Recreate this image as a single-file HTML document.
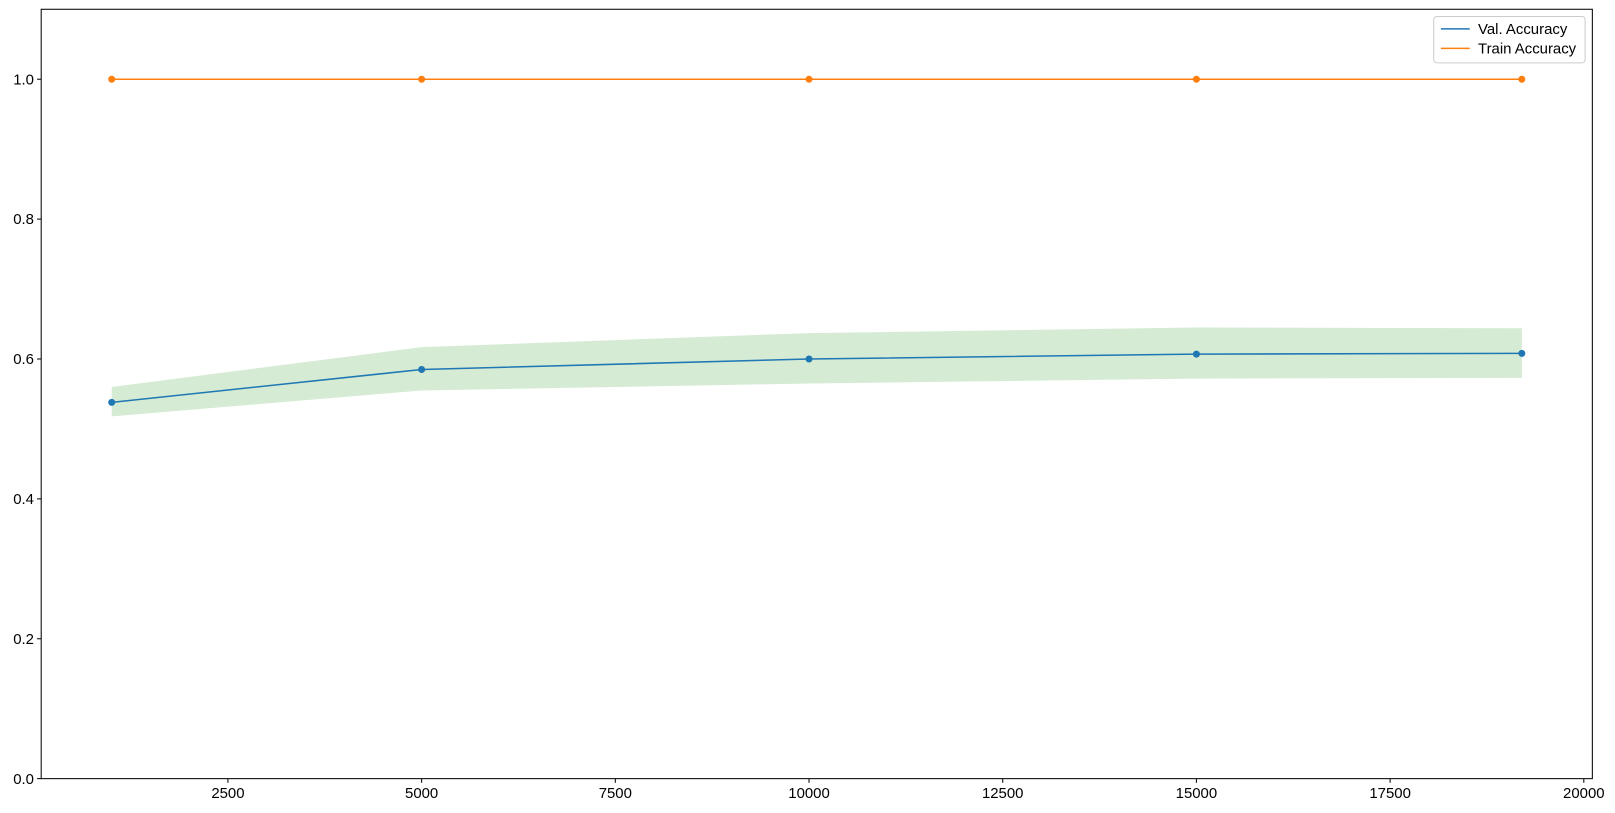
<!DOCTYPE html>
<html><head><meta charset="utf-8"><style>
body{margin:0;background:#fff;}
svg{display:block;}
svg text{font-family:"Liberation Sans","DejaVu Sans",sans-serif;font-size:14.5px;fill:#000;}
</style></head><body>
<svg id="chart" width="1615" height="813" viewBox="0 0 1568 789.35" preserveAspectRatio="none"></svg>
<script>
const xs=[1000,5000,10000,15000,19200];
const valAcc=[0.538,0.585,0.600,0.607,0.608];
const valUpper=[0.560,0.617,0.637,0.645,0.644];
const valLower=[0.518,0.555,0.565,0.572,0.573];
const trainAcc=[1.0,1.0,1.0,1.0,1.0];
const xTicks=[2500,5000,7500,10000,12500,15000,17500,20000];
const yTicks=[0,0.2,0.4,0.6,0.8,1.0];
const L=40,R=1546,T=9,B=756,xmin=90,xmax=20110,ymin=0,ymax=1.1;
const sx=v=>L+(v-xmin)/(xmax-xmin)*(R-L);
const sy=v=>B-(v-ymin)/(ymax-ymin)*(B-T);
const svg=document.getElementById('chart');
const NS='http://www.w3.org/2000/svg';
function mk(t,a,p){const e=document.createElementNS(NS,t);for(const k in a)e.setAttribute(k,a[k]);(p||svg).appendChild(e);return e;}
let pts=xs.map((x,i)=>sx(x)+','+sy(valUpper[i])).concat(xs.map((x,i)=>sx(x)+','+sy(valLower[i])).reverse());
const band=mk('polygon',{points:pts.join(' '),fill:'#d5ebd4'});


function series(vals,color,name){
  const g=mk('g',{});
  
  
  mk('polyline',{points:xs.map((x,i)=>sx(x)+','+sy(vals[i])).join(' '),fill:'none',stroke:color,'stroke-width':1.5},g);
  xs.forEach((x,i)=>{const c=mk('circle',{cx:sx(x),cy:sy(vals[i]),r:3.4,fill:color},g);
    
    });
}
series(valAcc,'#1f77b4','val-accuracy-line');
series(trainAcc,'#ff7f0e','train-accuracy-line');
const fr=mk('rect',{x:L,y:T,width:R-L,height:B-T,fill:'none',stroke:'#000','stroke-width':1});


xTicks.forEach(t=>{const x=sx(t);mk('line',{x1:x,x2:x,y1:B,y2:B+4,stroke:'#000'});
  const tx=mk('text',{x:x,y:B+19,'text-anchor':'middle'});tx.textContent=t;
  
  });
yTicks.forEach(t=>{const y=sy(t);mk('line',{x1:L-4,x2:L,y1:y,y2:y,stroke:'#000'});
  const tx=mk('text',{x:L-7,y:y+5,'text-anchor':'end'});tx.textContent=t.toFixed(1);
  
  });
const lg=mk('g',{});


mk('rect',{x:1392,y:16,width:147,height:45,rx:3,fill:'#fff',stroke:'#ccc'},lg);
[['Val. Accuracy','#1f77b4'],['Train Accuracy','#ff7f0e']].forEach((d,i)=>{
  const y=28+i*19;
  mk('line',{x1:1399,x2:1427,y1:y,y2:y,stroke:d[1],'stroke-width':1.5},lg);
  const tx=mk('text',{x:1435,y:y+5},lg);tx.textContent=d[0];
  
  
});
</script>
</body></html>
